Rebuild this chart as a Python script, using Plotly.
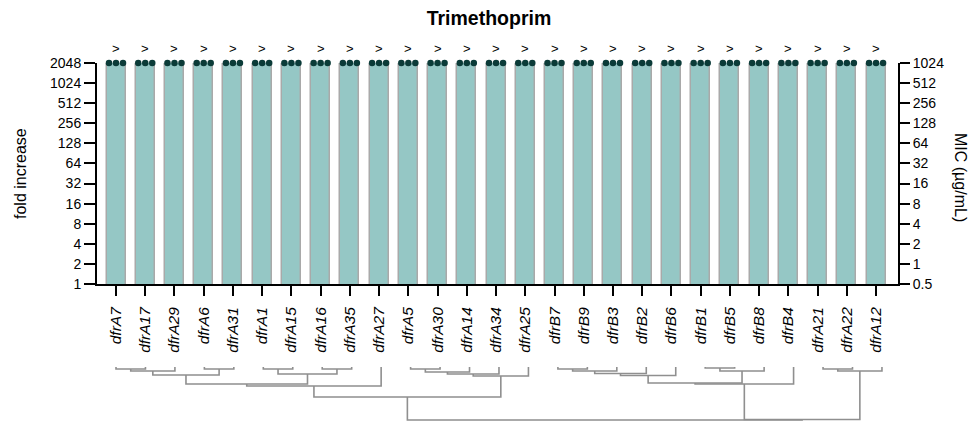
import math
import plotly.graph_objects as go

# ---------------- data ----------------
genes = ["dfrA7", "dfrA17", "dfrA29", "dfrA6", "dfrA31", "dfrA1", "dfrA15", "dfrA16",
         "dfrA35", "dfrA27", "dfrA5", "dfrA30", "dfrA14", "dfrA34", "dfrA25", "dfrB7",
         "dfrB9", "dfrB3", "dfrB2", "dfrB6", "dfrB1", "dfrB5", "dfrB8", "dfrB4",
         "dfrA21", "dfrA22", "dfrA12"]
fold_increase = [2048] * 27
replicate_1 = [2048] * 27
replicate_2 = [2048] * 27
replicate_3 = [2048] * 27
qualifier = [">"] * 27
fold_ticks = [1, 2, 4, 8, 16, 32, 64, 128, 256, 512, 1024, 2048]
mic_ticks = [0.5, 1, 2, 4, 8, 16, 32, 64, 128, 256, 512, 1024]
mic_tick_labels = ["0.5", "1", "2", "4", "8", "16", "32", "64", "128", "256", "512", "1024"]
breakpoint_fold = 8

# dendrogram merges: (child_a, child_b, height); leaves 0..26, new nodes numbered from 27
linkage = [
    (0, 1, 2), (27, 2, 4), (3, 4, 2), (28, 29, 8),          # 27..30
    (5, 6, 2), (7, 8, 2), (31, 32, 7), (30, 33, 17),        # 31..34
    (34, 9, 19),                                            # 35
    (10, 11, 2), (36, 12, 5), (37, 13, 7), (38, 14, 9),     # 36..39
    (35, 39, 30),                                           # 40
    (15, 16, 2), (41, 17, 4), (42, 18, 6.5), (43, 19, 8.5), # 41..44
    (20, 21, 1), (45, 22, 4), (44, 46, 16), (47, 23, 17),   # 45..48
    (24, 25, 2), (49, 26, 4),                               # 49..50
    (48, 50, 52.5), (40, 51, 53),                           # 51..52
]

# ---------------- helpers ----------------
W, H = 978, 421
def px(x):
    return x / W
def py(y):
    return 1 - y / H

idx = list(range(len(genes)))
fig = go.Figure()

# bars
fig.add_trace(go.Bar(
    x=idx, y=fold_increase, width=0.65,
    marker=dict(color="#95c7c5", line=dict(color="#a9a9a9", width=1.5)),
    xaxis="x", yaxis="y", showlegend=False, hoverinfo="skip"))

# replicate points
offsets = [-0.24, 0.0, 0.24]
rx, ry = [], []
for off, rep in zip(offsets, [replicate_1, replicate_2, replicate_3]):
    for i, v in zip(idx, rep):
        rx.append(i + off)
        ry.append(v)
fig.add_trace(go.Scatter(
    x=rx, y=ry, mode="markers", cliponaxis=False,
    marker=dict(color="#0b3b38", size=6.5, line=dict(width=0)),
    xaxis="x", yaxis="y", showlegend=False, hoverinfo="skip"))

# dummy trace for right axis
fig.add_trace(go.Scatter(x=[idx[0]], y=[mic_ticks[0]], mode="markers",
                         marker=dict(opacity=0), xaxis="x", yaxis="y2",
                         showlegend=False, hoverinfo="skip"))

# dendrogram
pos = {i: (float(i), 0.0) for i in idx}
dx, dy = [], []
for k, (a, b, h) in enumerate(linkage):
    xa, ha = pos[a]
    xb, hb = pos[b]
    dx += [xa, xa, xb, xb, None]
    dy += [ha, h, h, hb, None]
    pos[len(genes) + k] = ((xa + xb) / 2, h)
fig.add_trace(go.Scatter(
    x=dx, y=dy, mode="lines", line=dict(color="#8f8f8f", width=1.6),
    xaxis="x2", yaxis="y3", showlegend=False, hoverinfo="skip", cliponaxis=False))

# qualifiers
annotations = []
for i, q in zip(idx, qualifier):
    annotations.append(dict(x=i, y=math.log10(fold_increase[i]), xref="x", yref="y",
                            text=q, showarrow=False, yshift=15,
                            xanchor="center", yanchor="middle",
                            font=dict(size=13, color="#000")))

annotations.append(dict(x=px(20), y=py(174), xref="paper", yref="paper",
                        xanchor="center", yanchor="middle",
                        text="fold increase", textangle=-90, showarrow=False,
                        font=dict(size=16, color="#000")))
annotations.append(dict(x=px(961), y=py(177), xref="paper", yref="paper",
                        xanchor="center", yanchor="middle",
                        text="MIC (µg/mL)", textangle=90, showarrow=False,
                        font=dict(size=16, color="#000")))

FONT = "Arial, Liberation Sans, sans-serif"
fig.update_layout(
    template="none",
    width=W, height=H,
    margin=dict(l=0, r=0, t=0, b=0, pad=0),
    paper_bgcolor="white", plot_bgcolor="white",
    font=dict(family=FONT, color="#000", size=14),
    title=dict(text="<b>Trimethoprim</b>", x=0.5, xanchor="center", xref="paper",
               y=py(18), yanchor="middle", yref="paper", automargin=False,
               font=dict(size=19.5)),
    bargap=0,
    xaxis=dict(domain=[px(97), px(898)], range=[-0.65, 26.75],
               tickvals=idx, ticktext=[f"<i>{g}</i>" for g in genes],
               tickangle=-90, ticks="outside", ticklen=10, tickwidth=1.5,
               tickcolor="#000", showline=True, linewidth=2, linecolor="#000",
               showgrid=False, zeroline=False, tickfont=dict(size=15.5),
               ticklabelstandoff=5,
               anchor="y", automargin=False),
    yaxis=dict(domain=[py(284), py(63)], type="log",
               range=[math.log10(fold_ticks[0]), math.log10(fold_ticks[-1])],
               tickvals=fold_ticks, ticktext=[str(t) for t in fold_ticks],
               ticks="outside", ticklen=11, tickwidth=1.5, tickcolor="#000",
               showline=True, linewidth=2, linecolor="#000", showgrid=False,
               zeroline=False, anchor="x", automargin=False),
    yaxis2=dict(domain=[py(284), py(63)], type="log", overlaying="y", side="right",
                range=[math.log10(mic_ticks[0]), math.log10(mic_ticks[-1])],
                tickvals=mic_ticks, ticktext=mic_tick_labels,
                ticks="outside", ticklen=10, tickwidth=1.5, tickcolor="#000",
                showline=True, linewidth=2, linecolor="#000", showgrid=False,
                zeroline=False, anchor="x", automargin=False),
    xaxis2=dict(domain=[0, 1], range=[-116 / 29.46, (W - 116) / 29.46], visible=False,
                anchor="y3", automargin=False),
    yaxis3=dict(domain=[0, py(360)], range=[54, -7], visible=False, anchor="x2",
                automargin=False),
    shapes=[dict(type="line", xref="paper", yref="y",
                 x0=px(97), x1=px(898),
                 y0=math.log10(breakpoint_fold), y1=math.log10(breakpoint_fold),
                 line=dict(color="#d7301f", width=2, dash="6px,3px"), layer="above")],
    annotations=annotations,
)

fig.write_html("out.html")
